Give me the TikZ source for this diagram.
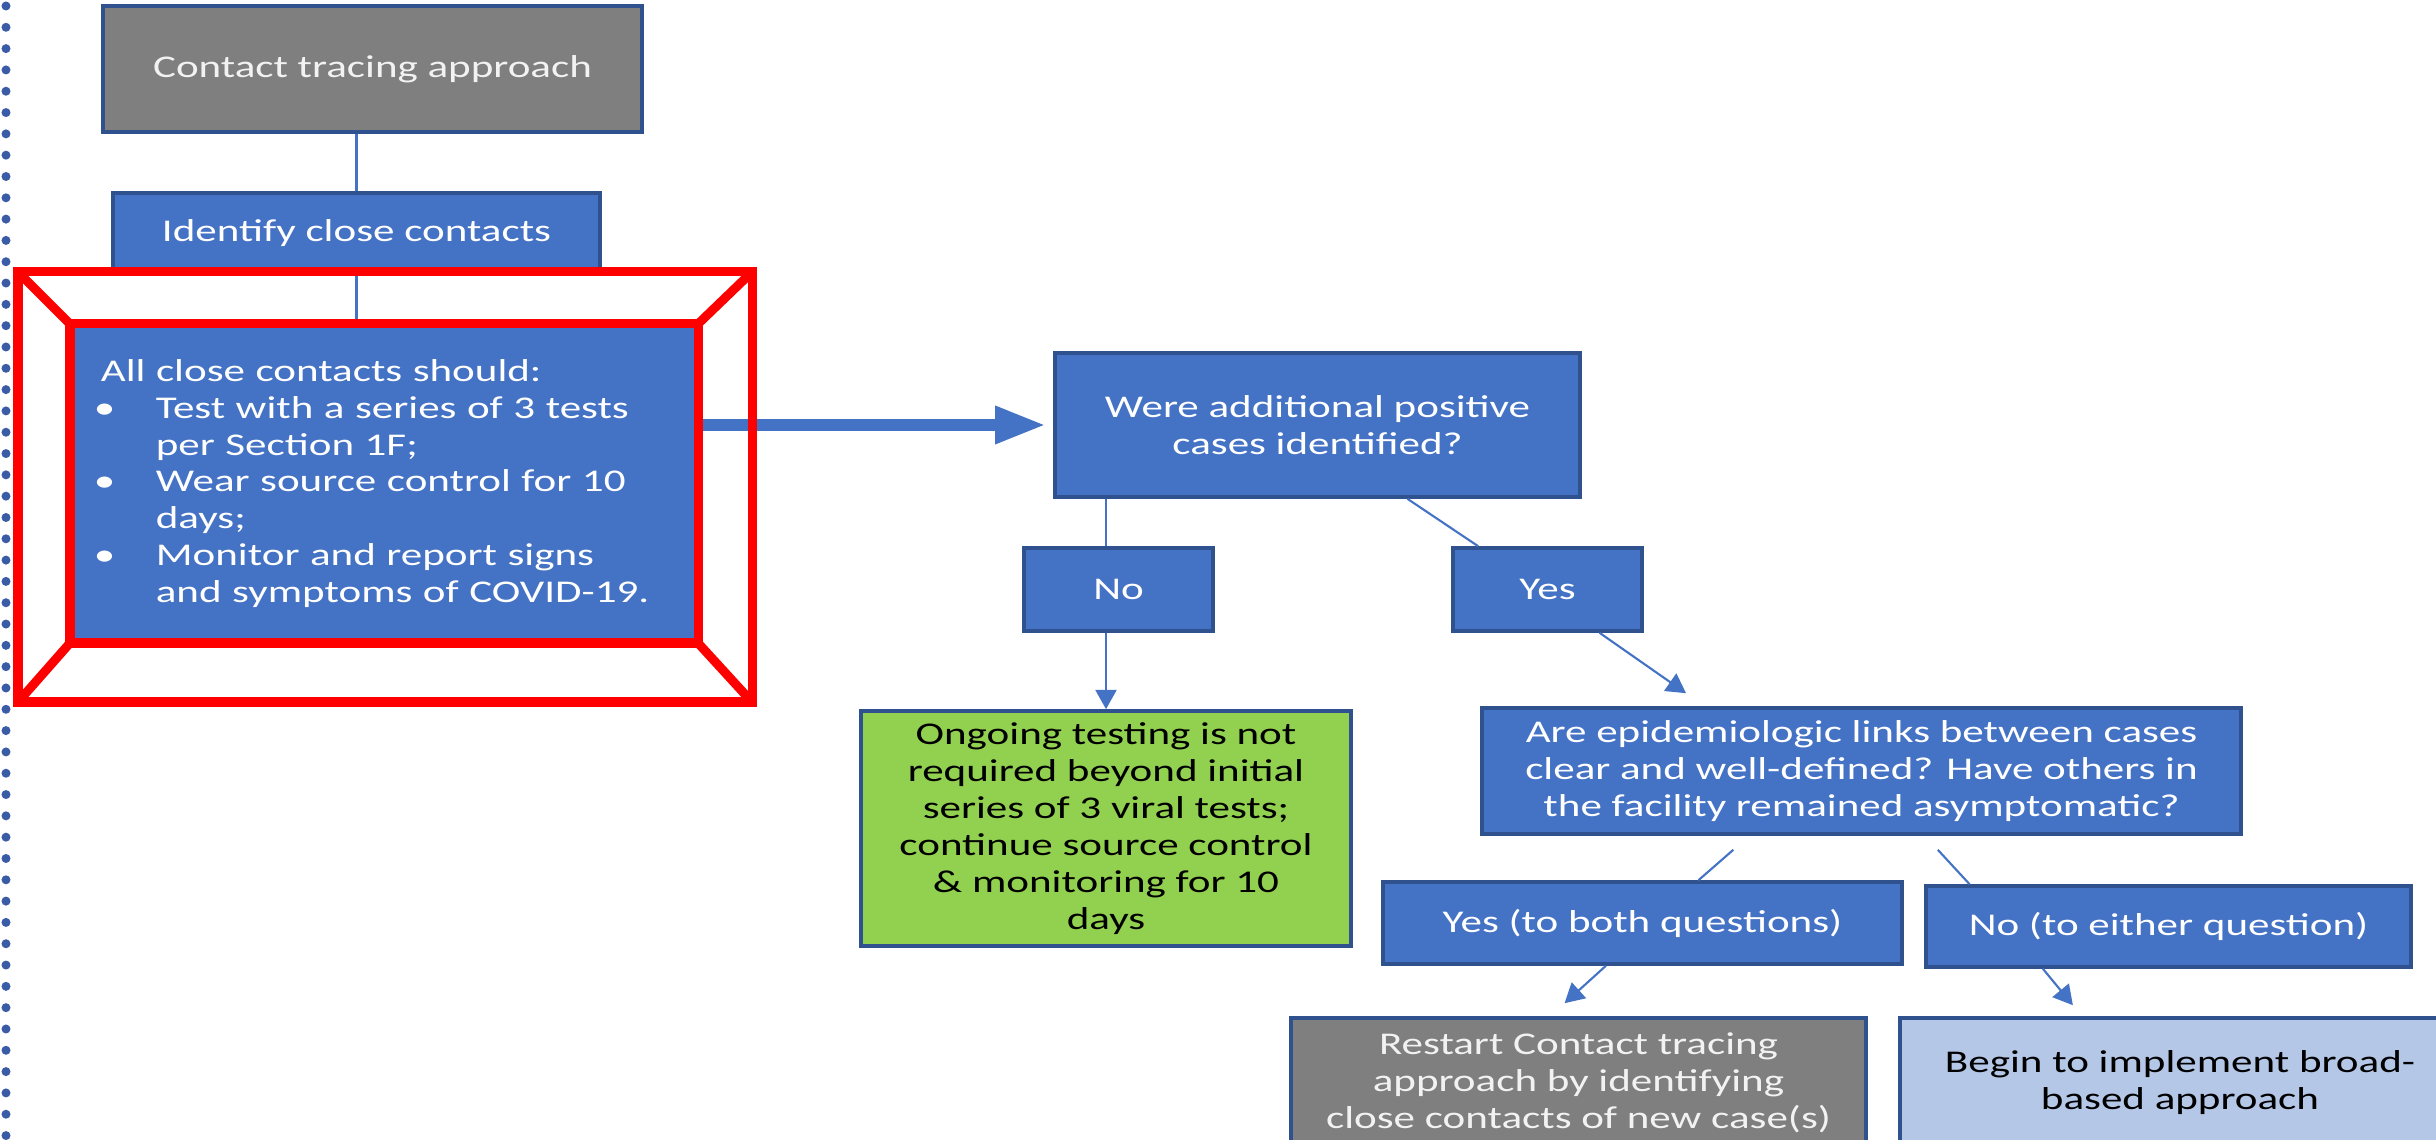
\documentclass[tikz,border=0pt]{standalone}
\usepackage{fontspec}
\setmainfont{Carlito}[FakeStretch=1.36]
\usepackage{tikz}
\usetikzlibrary{arrows.meta,calc,positioning}
\definecolor{flowblue}{HTML}{4472C4}
\definecolor{flowedge}{HTML}{2F528F}
\definecolor{flowgray}{HTML}{7F7F7F}
\definecolor{flowgreen}{HTML}{92D050}
\definecolor{flowpale}{HTML}{B4C7E7}
\definecolor{dotblue}{HTML}{3A5BA5}
\definecolor{framered}{HTML}{FF0000}
\newcommand{\boxfont}{\fontsize{9}{10.5}\selectfont}
\newcommand{\itm}{\makebox[0.55cm][l]{\hspace{-0.07cm}\textbullet}}
\newcommand{\cnt}{\hspace*{0.55cm}}
\tikzset{
  box/.style={draw=flowedge, line width=1pt, fill=flowblue, text=white, align=center, inner sep=1pt, font=\boxfont},
  graybox/.style={box, fill=flowgray, text=white!95!black},
  greenbox/.style={box, fill=flowgreen, text=black},
  palebox/.style={box, fill=flowpale, text=black},
  link/.style={flowblue, line width=0.6pt},
  linkarrow/.style={link, -{Triangle[length=5.5pt,width=6pt]}},
  bigarrow/.style={flowblue, line width=3.4pt, -{Triangle[length=0.51cm,width=0.35cm]}},
  redframe/.style={framered, line width=0.09cm},
  dotline/.style={dotblue, line width=0.09cm, line cap=round, dash pattern=on 0pt off 0.213cm}
}

\begin{document}
\begin{tikzpicture}[x=0.01cm, y=-0.01cm]
  \useasboundingbox (0,0) rectangle (2436,1140);
  \clip (0,0) rectangle (2436,1140);
  \draw[dotline] (6,6) -- (6,1140);
  % left column
  \node[graybox, minimum width=5.39cm, minimum height=1.26cm] (approach) at (372.5,69) {Contact tracing approach};
  \node[box, minimum width=4.87cm, minimum height=0.81cm] (identify) at (356.5,233.5) {Identify close contacts};
  \node[box, align=left, text width=5.66cm, minimum width=6.28cm, minimum height=3.19cm] (contacts) at (384,483.5) {All close contacts should:\\
    \itm Test with a series of 3 tests\\
    \cnt per Section 1F;\\
    \itm Wear source control for 10\\
    \cnt days;\\
    \itm Monitor and report signs\\
    \cnt and symptoms of COVID-19.};
  \draw[link] (approach.south -| identify.north) -- (identify.north);
  \draw[link] (identify.south) -- (identify.south |- contacts.north);
  % decision tree
  \node[box, minimum width=5.25cm, minimum height=1.44cm] (were) at (1317.5,425) {Were additional positive\\cases identified?};
  \node[box, minimum width=1.89cm, minimum height=0.83cm] (no) at (1118.5,589.5) {No};
  \node[box, minimum width=1.89cm, minimum height=0.83cm] (yes) at (1547.5,589.5) {Yes};
  \node[greenbox, minimum width=4.90cm, minimum height=2.35cm] (ongoing) at (1106,828.5) {Ongoing testing is not\\required beyond initial\\series of 3 viral tests;\\continue source control\\\& monitoring for 10\\days};
  \node[box, minimum width=7.59cm, minimum height=1.26cm] (links) at (1861.5,771) {Are epidemiologic links between cases\\clear and well-defined? Have others in\\the facility remained asymptomatic?};
  \node[box, minimum width=5.19cm, minimum height=0.82cm] (bothyes) at (1642.5,923) {Yes (to both questions)};
  \node[box, minimum width=4.85cm, minimum height=0.81cm] (eitherno) at (2168.5,926.5) {No (to either question)};
  \node[graybox, minimum width=5.75cm, minimum height=1.30cm] (restart) at (1578.5,1083) {Restart Contact tracing\\approach by identifying\\close contacts of new case(s)};
  \node[palebox, minimum width=5.60cm, minimum height=1.30cm] (broad) at (2180,1083) {Begin to implement broad-\\based approach};
  \draw[bigarrow, shorten >=0.07cm] (contacts.east |- were.west) -- (were.west);
  \draw[link] (were.south -| ongoing.north) -- (no.north -| ongoing.north);
  \draw[linkarrow] (no.south -| ongoing.north) -- (ongoing.north);
  \draw[link] ($(were.south west)!0.67!(were.south east)$) -- ($(yes.north west)!0.14!(yes.north east)$);
  \draw[linkarrow] ($(yes.south west)!0.77!(yes.south east)$) -- ($(links.north west)!0.27!(links.north east)+(0,-13)$);
  \draw[link] ($(links.south west)!0.332!(links.south east)+(0,14)$) -- ($(bothyes.north west)!0.607!(bothyes.north east)$);
  \draw[link] ($(links.south west)!0.6!(links.south east)+(0,14)$) -- ($(eitherno.north west)!0.093!(eitherno.north east)$);
  \draw[linkarrow] ($(bothyes.south west)!0.43!(bothyes.south east)$) -- ($(restart.north west)!0.476!(restart.north east)+(0,-13)$);
  \draw[linkarrow] ($(eitherno.south west)!0.243!(eitherno.south east)$) -- ($(broad.north west)!0.31!(broad.north east)+(0,-11)$);
  % highlight frame
  \draw[redframe] (18,272) rectangle (752,702);
  \draw[redframe] (70,324) rectangle (698,643);
  \draw[redframe] (18,272) -- (70,324) (752,272) -- (698,324) (18,702) -- (70,643) (752,702) -- (698,643);
\end{tikzpicture}
\end{document}
